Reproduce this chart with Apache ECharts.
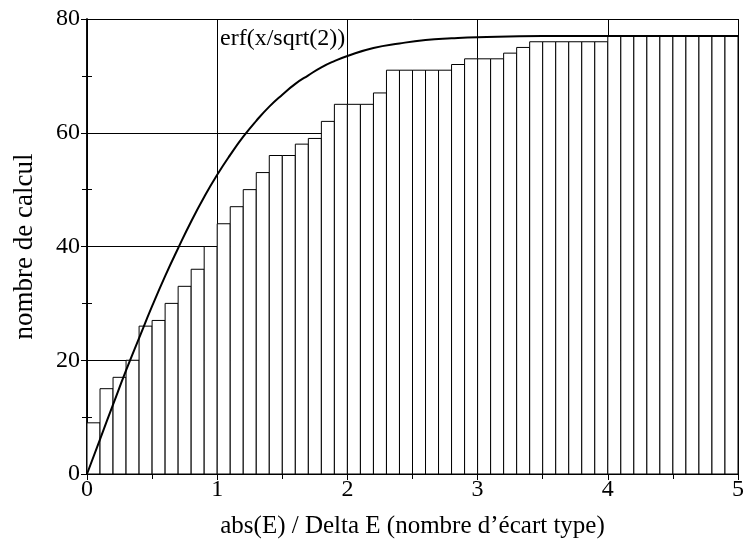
<!DOCTYPE html>
<html>
<head>
<meta charset="utf-8">
<script src="https://cdn.jsdelivr.net/npm/echarts@6/dist/echarts.min.js"></script>
<style>
  html, body { margin: 0; padding: 0; background: #fff; }
  #chart { width: 744px; height: 542px; }
</style>
</head>
<body>
<div id="chart"></div>
<script>
// histogram: bins of width 0.1 from 0 to 5, cumulative counts
const binWidth = 0.1;
const counts = [
  9, 15, 17, 20, 26, 27, 30, 33, 36, 40,
  44, 47, 50, 53, 56, 56, 58, 59, 62, 65,
  65, 65, 67, 71, 71, 71, 71, 71, 72, 73,
  73, 73, 74, 75, 76, 76, 76, 76, 76, 76,
  77, 77, 77, 77, 77, 77, 77, 77, 77, 77
];

// curve
const curveX = [0, 0.1, 0.2, 0.3, 0.4, 0.5, 0.6, 0.7, 0.8, 0.9, 1.0, 1.1, 1.2, 1.3, 1.4, 1.5, 1.6, 1.7, 1.8, 1.9, 2.0, 2.2, 2.4, 2.6, 2.8, 3.0, 3.5, 4.0, 5.0];
const curveY = [0, 6.1, 12.2, 18.2, 23.9, 29.5, 34.8, 39.7, 44.4, 48.7, 52.6, 56.1, 59.3, 62.1, 64.6, 66.7, 68.6, 70.1, 71.5, 72.6, 73.5, 74.9, 75.7, 76.3, 76.6, 76.8, 77.0, 77.0, 77.0];
const curveLabel = 'erf(x/sqrt(2))';

const xTicks = ['0', '1', '2', '3', '4', '5'];
const yTicks = ['0', '20', '40', '60', '80'];

const font = '"Liberation Serif", "DejaVu Serif", serif';

let binData = counts.map((c, i) => [i * binWidth, (i + 1) * binWidth, c]);
let curveData = curveX.map((x, i) => [x, curveY[i]]);

function axisX(pos, showLabel) {
    return {
        type: 'value', position: pos, min: 0, max: 5, interval: 1,
        axisLine: { show: true, lineStyle: { color: '#000', width: 1.5 } },
        axisTick: { show: true, inside: true, length: 6, lineStyle: { color: '#000' } },
        minorTick: { show: true, splitNumber: 2, length: 5, lineStyle: { color: '#000' } },
        axisLabel: {
            show: showLabel, margin: 4, color: '#000', fontFamily: font, fontSize: 24,
            formatter: v => xTicks[Math.round(v)]
        },
        splitLine: { show: showLabel, lineStyle: { color: '#000', width: 1 } }
    };
}

function axisY(pos, showLabel) {
    return {
        type: 'value', position: pos, min: 0, max: 80, interval: 20,
        axisLine: { show: true, lineStyle: { color: '#000', width: 1.5 } },
        axisTick: { show: true, inside: true, length: 6, lineStyle: { color: '#000' } },
        minorTick: { show: true, splitNumber: 2, length: 5, lineStyle: { color: '#000' } },
        axisLabel: {
            show: showLabel, margin: 7, color: '#000', fontFamily: font, fontSize: 24,
            formatter: v => yTicks[Math.round(v / 20)]
        },
        splitLine: { show: showLabel, lineStyle: { color: '#000', width: 1 } }
    };
}

let myChart = echarts.init(document.getElementById('chart'));
let xBottom = axisX('bottom', true);
xBottom.name = 'abs(E) / Delta E (nombre d\u2019\u00e9cart type)';
xBottom.nameLocation = 'middle';
xBottom.nameGap = 40;
xBottom.nameTextStyle = { color: '#000', fontFamily: font, fontSize: 25 };
let yLeft = axisY('left', true);
yLeft.name = 'nombre de calcul';
yLeft.nameLocation = 'middle';
yLeft.nameGap = 49;
yLeft.nameTextStyle = { color: '#000', fontFamily: font, fontSize: 27 };

let option = {
    animation: false,
    backgroundColor: '#fff',
    grid: { left: 87, right: 6, top: 19, bottom: 68, containLabel: false, outerBoundsMode: 'none' },
    xAxis: [xBottom, axisX('top', false)],
    yAxis: [yLeft, axisY('right', false)],
    graphic: [{
        type: 'text', left: 220, top: 27,
        style: { text: curveLabel, fill: '#000', font: '24px ' + font }
    }],
    series: [
        {
            type: 'custom',
            data: binData,
            z: 3,
            renderItem: function (params, api) {
                let p0 = api.coord([api.value(0), api.value(2)]);
                let p1 = api.coord([api.value(1), 0]);
                return {
                    type: 'rect',
                    shape: { x: p0[0], y: p0[1], width: p1[0] - p0[0], height: p1[1] - p0[1] },
                    style: { fill: '#fff', stroke: '#000', lineWidth: 1 }
                };
            }
        },
        {
            type: 'line',
            data: curveData,
            smooth: true,
            symbol: 'none',
            z: 4,
            lineStyle: { color: '#000', width: 2 }
        }
    ]
};
myChart.setOption(option);
</script>
</body>
</html>
